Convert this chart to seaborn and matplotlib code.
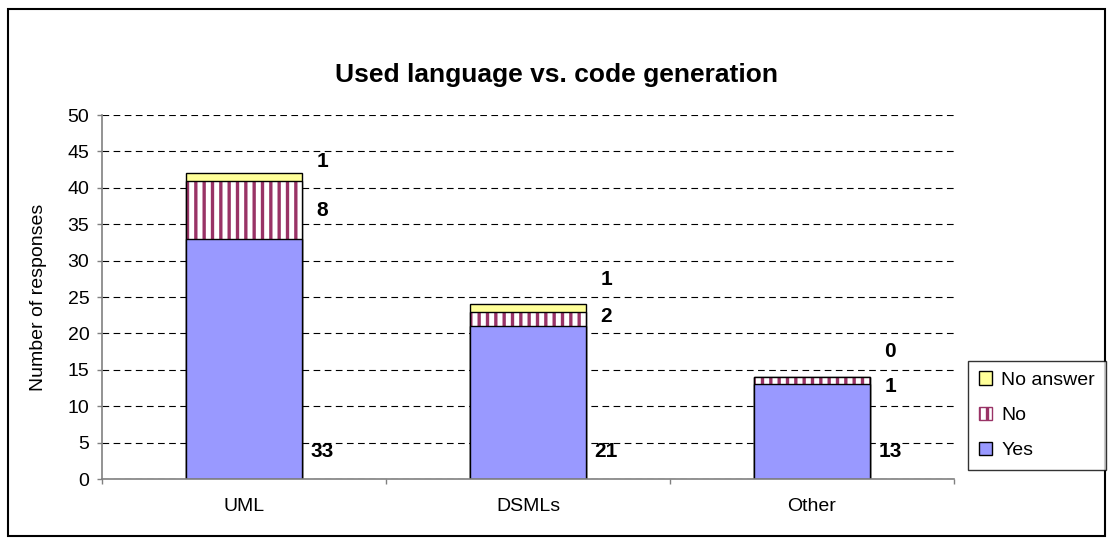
import matplotlib
matplotlib.use("Agg")
import matplotlib.pyplot as plt
import seaborn as sns
import pandas as pd
import numpy as np
from matplotlib.patches import Patch, Rectangle

categories = ["UML", "DSMLs", "Other"]
yes = [33, 21, 13]
no = [8, 2, 1]
no_answer = [1, 1, 0]
series_names = ["Yes", "No", "No answer"]
# vertical positions (data units) of the value labels, as placed in the original
label_y_yes = [3.75, 3.75, 3.75]
label_y_no = [36.9, 22.3, 12.7]
label_y_na = [43.6, 27.4, 17.5]

sns.set_theme(style="white")
plt.rcParams["font.family"] = ["Liberation Sans", "DejaVu Sans"]
plt.rcParams["hatch.linewidth"] = 2.4
for k in ["text.color", "axes.labelcolor", "xtick.color", "ytick.color"]:
    plt.rcParams[k] = "black"

df = pd.DataFrame({"cat": categories, "yes": yes, "no": no, "na": no_answer})
df["yes_no"] = df["yes"] + df["no"]
df["total"] = df["yes_no"] + df["na"]

fig = plt.figure(figsize=(11.13, 5.44), dpi=100)
ax = fig.add_axes([102 / 1113, 1 - 479 / 544, (954 - 102) / 1113, (479 - 115) / 544])

W = 0.41
sns.barplot(data=df, x="cat", y="total", color="#FFFF99", edgecolor="black",
            linewidth=1.0, width=W, saturation=1, ax=ax)
sns.barplot(data=df, x="cat", y="yes_no", color="white", edgecolor="#993366",
            linewidth=0, width=W, saturation=1, hatch="||", ax=ax)
sns.barplot(data=df, x="cat", y="yes_no", fill=False, edgecolor="black",
            linewidth=1.0, width=W, ax=ax)
sns.barplot(data=df, x="cat", y="yes", color="#9999FF", edgecolor="black",
            linewidth=1.0, width=W, saturation=1, ax=ax)

ax.set_ylim(0, 50)
ax.set_xlim(-0.5, 2.5)
ax.set_yticks(np.arange(0, 51, 5))
ax.yaxis.grid(True, color="black", linestyle=(0, (6, 4)), linewidth=0.8)
ax.set_axisbelow(True)
for s in ["top", "right"]:
    ax.spines[s].set_visible(False)
for s in ["left", "bottom"]:
    ax.spines[s].set_color("#808080")
    ax.spines[s].set_linewidth(1.2)
ax.tick_params(axis="y", direction="out", length=3.6, color="#808080", width=1,
               labelsize=14, left=True, pad=5.5)
ax.tick_params(axis="x", which="major", length=0, labelsize=14, pad=14)
ax.set_xticks([-0.5, 0.5, 1.5, 2.5], minor=True)
ax.tick_params(axis="x", which="minor", direction="out", length=3.6, color="#808080", width=1, bottom=True)
ax.set_xlabel("")
ax.set_ylabel("Number of responses", fontsize=14)
ax.yaxis.set_label_coords((47 - 102) / 852, 0.5)

dx = W / 2 + 0.07
for i in range(len(categories)):
    ax.text(i + dx, label_y_yes[i], str(yes[i]), ha="center", va="center", fontsize=15, fontweight="bold")
    ax.text(i + dx, label_y_no[i], str(no[i]), ha="center", va="center", fontsize=15, fontweight="bold")
    ax.text(i + dx, label_y_na[i], str(no_answer[i]), ha="center", va="center", fontsize=15, fontweight="bold")

fig.text(0.5, 1 - 75 / 544, "Used language vs. code generation", ha="center", va="center",
         fontsize=19, fontweight="bold")

handles = [
    Patch(facecolor="#FFFF99", edgecolor="black", label=series_names[2]),
    Patch(facecolor="white", edgecolor="#993366", hatch="||", label=series_names[1]),
    Patch(facecolor="#9999FF", edgecolor="black", label=series_names[0]),
]
leg = fig.legend(handles=handles, loc="lower left", bbox_to_anchor=(968 / 1113, 1 - 470 / 544),
                 frameon=True, fancybox=False, edgecolor="black", fontsize=14,
                 handlelength=0.7, handleheight=0.7, handletextpad=0.45,
                 labelspacing=0.9, borderpad=0.55, borderaxespad=0)
leg.get_frame().set_linewidth(1.0)

fig.patches.append(Rectangle((8 / 1113, 8 / 544), 1 - 16 / 1113, 1 - 17 / 544, transform=fig.transFigure,
                             fill=False, edgecolor="black", linewidth=1.5))

fig.savefig("out.png", dpi=100)
